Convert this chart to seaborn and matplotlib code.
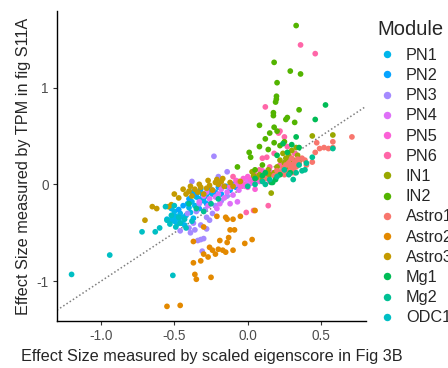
import numpy as np
import pandas as pd
import matplotlib
matplotlib.use("Agg")
import matplotlib.pyplot as plt
import seaborn as sns

# modules in legend order
modules = ["PN1", "PN2", "PN3", "PN4", "PN5", "PN6", "IN1", "IN2",
           "Astro1", "Astro2", "Astro3", "Mg1", "Mg2", "ODC1"]

# (eigenscore effect, TPM effect)
PN1 = [(-0.53, -0.37), (-0.51, -0.35), (-0.50, -0.38), (-0.49, -0.33), (-0.47, -0.36),
       (-0.46, -0.30), (-0.45, -0.40), (-0.52, -0.25), (-0.50, -0.28), (-0.44, -0.34),
       (-0.42, -0.32), (-0.41, -0.20), (-0.40, -0.24), (-0.38, -0.18), (-0.36, -0.22),
       (-0.35, -0.13), (-0.33, -0.15), (-0.31, -0.10), (-0.30, -0.17), (-0.28, -0.12),
       (-0.26, -0.08), (-0.24, -0.10), (-0.43, -0.42), (-0.48, -0.41), (-0.55, -0.36),
       (-0.39, -0.29), (-0.37, -0.35)]
PN2 = [(-0.35, -0.10), (-0.32, -0.05), (-0.30, -0.13), (-0.28, -0.20), (-0.25, -0.05),
       (-0.22, -0.08), (-0.20, -0.03), (-0.18, -0.10), (-0.15, -0.02), (-0.12, -0.06),
       (-0.40, -0.15), (-0.44, -0.22), (-0.47, -0.26), (-0.33, -0.25), (-0.10, 0.00),
       (-0.08, -0.03), (-0.05, 0.02), (-0.38, -0.08)]
PN3 = [(-0.23, 0.29), (-0.38, 0.03), (-0.14, 0.13), (-0.20, 0.08), (-0.39, -0.50),
       (-0.46, -0.48), (-0.34, -0.58), (-0.30, -0.56), (-0.32, -0.57), (-0.31, -0.69),
       (-0.32, -0.42), (-0.26, -0.37), (-0.28, -0.34), (-0.37, -0.40), (-0.41, -0.30),
       (-0.35, -0.28), (-0.33, -0.20), (-0.29, -0.26), (-0.24, -0.30), (-0.22, -0.22),
       (-0.18, -0.17), (-0.14, -0.12), (-0.40, -0.45), (-0.36, -0.47), (-0.28, -0.46)]
PN4 = [(-0.30, -0.12), (-0.28, -0.08), (-0.26, -0.15), (-0.24, -0.06), (-0.22, -0.13),
       (-0.20, -0.10), (-0.18, -0.05), (-0.16, -0.14), (-0.14, -0.08), (-0.12, -0.03),
       (-0.10, -0.11), (-0.08, 0.00), (-0.06, -0.06), (-0.04, 0.02), (-0.02, -0.02),
       (0.00, 0.03), (0.02, 0.01), (0.05, 0.04), (-0.21, -0.25), (-0.19, -0.20),
       (-0.12, -0.20), (-0.33, -0.18), (-0.27, -0.22), (-0.07, -0.18), (0.08, 0.06),
       (-0.17, -0.02)]
PN5 = [(-0.05, -0.02), (-0.02, 0.00), (0.00, -0.03), (0.02, 0.05), (0.04, 0.02),
       (0.06, 0.07), (0.08, 0.03), (0.10, 0.06), (0.12, 0.10), (0.14, 0.08),
       (0.16, 0.12), (0.18, 0.10), (0.20, 0.15), (0.22, 0.13), (0.25, 0.16),
       (0.28, 0.18), (-0.08, 0.04), (-0.12, -0.02), (0.00, 0.08), (0.10, 0.14),
       (0.05, -0.05), (-0.03, 0.06), (0.15, 0.03), (0.30, 0.20)]
PN6 = [(0.36, 1.44), (0.46, 1.35), (0.12, 0.80), (0.22, 0.55), (0.21, 0.53),
       (0.25, 0.49), (0.13, 0.28), (0.10, 0.27), (0.14, -0.22), (-0.01, -0.29),
       (0.04, -0.27), (-0.10, 0.08), (0.27, 0.39), (0.32, 0.32), (0.18, 0.32),
       (0.05, 0.10), (0.28, 0.25), (0.22, 0.20), (0.35, 0.22), (-0.06, 0.03),
       (0.15, 0.18), (0.30, 0.12), (0.08, 0.15)]
IN1 = [(0.44, 0.50), (0.58, 0.51), (0.33, 0.38), (0.30, 0.35), (0.28, 0.30),
       (0.26, 0.27), (0.25, 0.22), (0.31, 0.25), (0.22, 0.25), (0.20, 0.18),
       (0.18, 0.12), (0.15, 0.10), (0.12, 0.08), (0.10, 0.05), (0.08, 0.10),
       (0.06, 0.07), (0.04, 0.09), (0.16, -0.09), (0.24, 0.32), (0.34, 0.30),
       (0.36, 0.26), (0.03, 0.13), (0.14, 0.15), (0.27, 0.18)]
IN2 = [(0.33, 1.64), (0.18, 1.26), (0.29, 1.17), (0.36, 1.14), (0.20, 1.05),
       (0.196, 0.91), (0.195, 0.88), (0.19, 0.85), (0.175, 0.74), (0.175, 0.71),
       (0.27, 0.69), (0.26, 0.67), (0.32, 0.64), (0.35, 0.77), (0.08, 0.61),
       (0.18, 0.59), (0.20, 0.55), (0.15, 0.53), (0.12, 0.47), (0.18, 0.43),
       (0.08, 0.39), (0.01, 0.33), (-0.07, 0.18), (0.14, 0.36), (0.22, 0.40),
       (0.10, 0.20), (0.05, 0.15), (0.25, 0.44), (0.02, 0.28)]
Astro1 = [(0.71, 0.49), (0.46, 0.33), (0.49, 0.37), (0.52, 0.38), (0.55, 0.37),
          (0.58, 0.38), (0.47, 0.43), (0.44, 0.23), (0.37, 0.27), (0.39, 0.25),
          (0.34, 0.26), (0.32, 0.23), (0.30, 0.20), (0.31, 0.15), (0.29, 0.18),
          (0.27, 0.13), (0.33, 0.18), (0.35, 0.22), (0.26, 0.20), (0.24, 0.17),
          (0.22, 0.12), (0.20, 0.14), (0.18, 0.09), (0.28, 0.22), (0.30, 0.27),
          (0.32, 0.12), (0.25, 0.10), (0.58, 0.44), (0.40, 0.20), (0.12, 0.06)]
Astro2 = [(-0.55, -1.26), (-0.46, -1.25), (-0.36, -0.93), (-0.35, -0.98), (-0.25, -0.96),
          (-0.37, -0.81), (-0.32, -0.79), (-0.30, -0.72), (-0.37, -0.59), (-0.30, -0.44),
          (-0.26, -0.65), (-0.24, -0.68), (-0.20, -0.67), (-0.19, -0.58), (-0.14, -0.60),
          (-0.13, -0.55), (-0.12, -0.47), (-0.09, -0.47), (-0.17, -0.68), (-0.10, -0.68),
          (-0.02, -0.61), (0.03, -0.57), (-0.21, -0.33), (-0.15, -0.34), (-0.14, -0.36),
          (-0.10, -0.36), (-0.05, -0.33), (0.05, -0.27), (-0.22, -0.72), (-0.15, -0.70),
          (-0.27, -0.75)]
Astro3 = [(-0.70, -0.37), (-0.65, -0.23), (-0.62, -0.25), (-0.54, -0.23), (-0.52, -0.21),
          (-0.50, -0.10), (-0.47, -0.14), (-0.42, -0.10), (-0.40, -0.07), (-0.38, -0.12),
          (-0.36, -0.05), (-0.34, -0.08), (-0.32, -0.03), (-0.30, -0.10), (-0.28, -0.04),
          (-0.26, -0.01), (-0.24, -0.06), (-0.22, 0.02), (-0.20, 0.00), (-0.18, 0.03),
          (-0.16, -0.02), (-0.12, 0.02), (-0.10, -0.02), (-0.05, 0.03), (-0.44, -0.05),
          (-0.39, -0.02), (-0.33, 0.00), (-0.27, 0.04), (-0.21, 0.05), (-0.17, 0.06)]
Mg1 = [(0.53, 0.82), (0.46, 0.67), (0.33, 0.49), (0.16, 0.02), (0.17, 0.02),
       (0.30, 0.41), (0.24, 0.42), (0.20, 0.30), (0.22, 0.10), (0.12, 0.12),
       (0.27, 0.33), (0.10, 0.09), (0.35, 0.38), (0.05, 0.06), (0.19, 0.05),
       (0.29, 0.12)]
Mg2 = [(0.58, 0.37), (0.39, 0.15), (0.37, 0.14), (0.31, 0.05), (0.40, 0.22),
       (0.44, 0.28), (0.35, 0.20), (0.25, 0.15), (0.20, 0.08), (0.15, 0.05),
       (0.10, 0.03), (0.05, 0.00), (0.00, -0.02), (-0.35, -0.25), (-0.30, -0.28),
       (-0.25, -0.20), (-0.40, -0.20), (0.28, 0.10), (0.33, 0.12), (-0.20, -0.15),
       (0.12, 0.00)]
ODC1 = [(-1.20, -0.93), (-0.94, -0.73), (-0.51, -0.94), (-0.72, -0.49), (-0.63, -0.49),
        (-0.60, -0.45), (-0.55, -0.37), (-0.53, -0.41), (-0.49, -0.44), (-0.46, -0.40),
        (-0.47, -0.34), (-0.43, -0.36), (-0.52, -0.32), (-0.56, -0.23), (-0.50, -0.22),
        (-0.38, -0.38), (-0.42, -0.45)]

points = {"PN1": PN1, "PN2": PN2, "PN3": PN3, "PN4": PN4, "PN5": PN5, "PN6": PN6,
          "IN1": IN1, "IN2": IN2, "Astro1": Astro1, "Astro2": Astro2, "Astro3": Astro3,
          "Mg1": Mg1, "Mg2": Mg2, "ODC1": ODC1}

rows = []
for m in modules:
    for x, y in points[m]:
        rows.append((m, x, y))
df = pd.DataFrame(rows, columns=["Module", "eigen", "tpm"])


def hcl_hex(h, c=100.0, l=65.0):
    # polar LUV -> sRGB, like ggplot's hue_pal
    xn, yn, zn = 95.047, 100.0, 108.883
    hr = np.deg2rad(h)
    u, v = c * np.cos(hr), c * np.sin(hr)
    Y = yn * ((l + 16) / 116) ** 3
    d = xn + 15 * yn + 3 * zn
    up = u / (13 * l) + 4 * xn / d
    vp = v / (13 * l) + 9 * yn / d
    X = 9 * Y * up / (4 * vp)
    Z = -X / 3 - 5 * Y + 3 * Y / vp
    xyz = np.array([X, Y, Z]) / 100
    M = np.array([[3.240479, -1.537150, -0.498535],
                  [-0.969256, 1.875992, 0.041556],
                  [0.055648, -0.204043, 1.057311]])
    rgb = M @ xyz
    rgb = np.where(rgb <= 0.0031308, 12.92 * rgb, 1.055 * np.abs(rgb) ** (1 / 2.4) - 0.055)
    rgb = np.clip(rgb, 0, 1)
    return matplotlib.colors.to_hex(rgb)


# ggplot assigns hues in alphabetical factor order
alpha_order = sorted(modules)
hues = np.linspace(15, 375, len(alpha_order) + 1)[:-1]
palette = {m: hcl_hex(h) for m, h in zip(alpha_order, hues)}

sns.set_style("white")
plt.rcParams["font.family"] = ["Liberation Sans", "DejaVu Sans"]

fig = plt.figure(figsize=(4.48, 3.68), dpi=100)
ax = fig.add_axes([0.127, 0.128, 0.690, 0.842])

ax.axline((0, 0), slope=1, color="#7f7f7f", ls=(0, (1, 1.5)), lw=1.1, zorder=1)
sns.scatterplot(data=df, x="eigen", y="tpm", hue="Module", hue_order=modules,
                palette=palette, s=17, linewidth=0, ax=ax, zorder=2)

ax.set_xlim(-1.30, 0.806)
ax.set_ylim(-1.41, 1.79)
ax.set_xticks([-1.0, -0.5, 0.0, 0.5])
ax.set_xticklabels(["-1.0", "-0.5", "0.0", "0.5"])
ax.set_yticks([-1, 0, 1])
ax.set_yticklabels(["-1", "0", "1"])
ax.tick_params(axis="both", labelsize=9.8, labelcolor="#4d4d4d", color="#333333",
               length=3, width=0.8, direction="out", bottom=True, left=True, pad=3)
for side in ["top", "right"]:
    ax.spines[side].set_visible(False)
for side in ["left", "bottom"]:
    ax.spines[side].set_color("black")
    ax.spines[side].set_linewidth(1.0)

ax.set_xlabel("Effect Size measured by scaled eigenscore in Fig 3B", fontsize=11.7, labelpad=4)
ax.set_ylabel("Effect Size measured by TPM in fig S11A", fontsize=11.7, labelpad=4)

leg = ax.legend(title="Module", loc="upper left", bbox_to_anchor=(0.828, 0.962),
                bbox_transform=fig.transFigure, frameon=False, fontsize=11.7,
                title_fontsize=14.5, markerscale=1.3, handletextpad=0.55,
                labelspacing=0.32, borderaxespad=0, handlelength=1.2)
leg._legend_box.align = "left"
leg._legend_box.sep = 6

fig.savefig("out.png", dpi=100)
